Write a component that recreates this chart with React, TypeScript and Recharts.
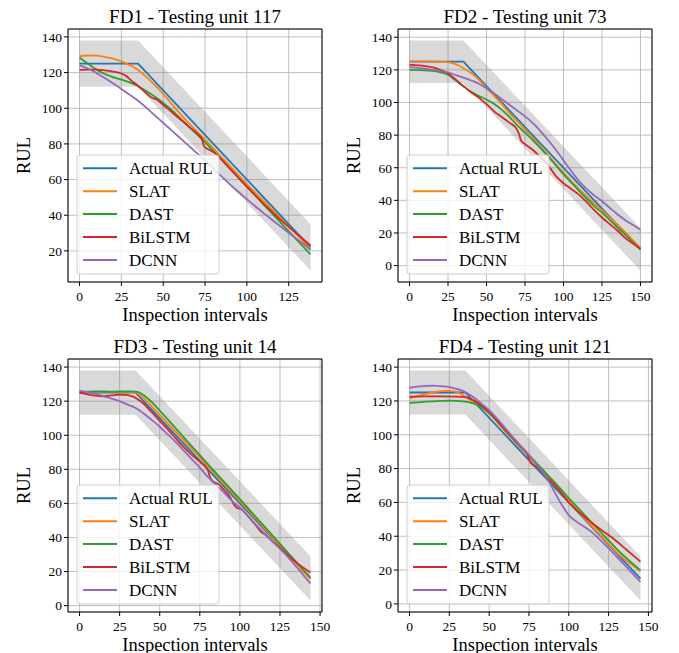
import React from "react";
import {
  ComposedChart,
  Line,
  Area,
  XAxis,
  YAxis,
  CartesianGrid,
  ReferenceArea,
} from "recharts";

const FONT = '"Liberation Serif", "Times New Roman", serif';

const SERIES_NAMES = ["Actual RUL", "SLAT", "DAST", "BiLSTM", "DCNN"];
const COLORS = ["#1f77b4", "#ff7f0e", "#2ca02c", "#d62728", "#9467bd"];

type Pt = [number, number];
type BandPt = [number, number, number];

// FD1 - unit 117
const fd1Actual: Pt[] = [[0, 125], [35, 125], [138, 22]];
const fd1Band: BandPt[] = [[0, 112, 138], [35, 112, 138], [138, 9, 35]];
const fd1Slat: Pt[] = [
  [0, 129.2], [5, 129.6], [10, 129.5], [15, 128.8], [20, 127.8], [25, 126.3], [30, 124.2],
  [35, 121.5], [40, 117.5], [45, 113], [50, 108], [55, 102.5], [60, 97], [65, 92],
  [70, 87.2], [75, 82.5], [80, 77.5], [90, 67.5], [100, 57.5], [110, 48], [120, 38.5],
  [130, 29], [138, 21],
];
const fd1Dast: Pt[] = [
  [0, 128.5], [5, 125], [10, 121.8], [15, 119.2], [20, 117.5], [25, 116], [30, 114.5],
  [35, 112.5], [40, 109.5], [45, 106.5], [50, 103], [55, 99], [60, 94.5], [65, 90],
  [70, 85.5], [75, 81], [80, 76], [90, 66], [100, 56], [110, 46], [120, 36], [130, 26],
  [138, 18],
];
const fd1Bilstm: Pt[] = [
  [0, 121.5], [5, 121.7], [10, 121.7], [15, 121.3], [20, 120.6], [25, 119.5], [28, 118],
  [31, 115.5], [35, 112.5], [38, 110], [41, 107.5], [43, 106], [46, 105], [50, 102],
  [55, 98], [60, 94], [65, 90], [70, 86], [73, 83], [74.5, 78.5], [78, 76.5], [81, 74.8],
  [83, 73], [86, 70], [90, 66], [100, 56], [110, 46.5], [120, 37.5], [130, 29.5], [138, 23],
];
const fd1Dcnn: Pt[] = [
  [0, 124], [5, 122.3], [10, 119.8], [15, 117], [20, 114], [25, 110.8], [30, 107.5],
  [35, 104.2], [40, 100.2], [45, 96], [50, 91.8], [55, 87.6], [60, 83.4], [65, 79.2],
  [70, 75], [75, 70.8], [80, 66.2], [85, 61.6], [90, 57.2], [95, 53], [100, 49],
  [105, 45], [110, 41.2], [115, 37.5], [120, 33.8], [125, 30.2], [130, 26.5], [135, 23],
  [138, 20.5],
];

// FD2 - unit 73
const fd2Actual: Pt[] = [[0, 125], [35, 125], [150, 10]];
const fd2Band: BandPt[] = [[0, 112, 138], [35, 112, 138], [150, -3, 23]];
const fd2Slat: Pt[] = [
  [0, 125.2], [10, 125.2], [20, 125], [25, 124.8], [30, 123.5], [35, 121], [40, 118],
  [45, 114], [50, 109], [55, 104], [60, 99], [65, 93.5], [70, 88.5], [75, 83.5],
  [80, 78.5], [85, 73], [90, 67.8], [95, 62.3], [100, 57], [110, 47], [120, 38],
  [125, 34], [130, 29.5], [140, 20.5], [150, 10.5],
];
const fd2Dast: Pt[] = [
  [0, 120], [10, 119.7], [20, 118.5], [25, 117], [30, 113.5], [35, 110], [40, 106.5],
  [45, 104], [50, 101.8], [55, 99], [60, 95.5], [65, 91], [70, 86], [75, 81.5], [80, 77],
  [85, 72], [90, 67], [95, 61.5], [100, 56], [110, 46], [120, 36.5], [125, 32.5],
  [130, 28], [140, 19], [150, 9.8],
];
const fd2Bilstm: Pt[] = [
  [0, 123], [10, 122.3], [15, 121.5], [20, 120], [25, 117.8], [30, 114], [35, 110],
  [40, 106.3], [45, 103], [50, 99], [55, 94.5], [60, 91], [65, 87.5], [69, 84.5],
  [71, 81], [72.5, 76.5], [75, 74.5], [80, 71], [85, 66.5], [90, 61.5], [95, 55],
  [100, 50.5], [105, 47], [110, 43.5], [115, 39], [120, 34], [125, 29.5], [130, 25.5],
  [135, 21.5], [140, 17], [145, 13.5], [150, 10.5],
];
const fd2Dcnn: Pt[] = [
  [0, 121.7], [10, 120.8], [20, 119.3], [25, 118.5], [30, 116.8], [35, 115.2], [40, 113.5],
  [45, 111.5], [50, 108.6], [55, 105.5], [60, 102], [65, 98.5], [70, 95], [75, 91.5],
  [80, 87.5], [85, 82.5], [90, 77], [95, 71], [100, 64.5], [105, 58], [110, 52],
  [115, 47], [120, 43], [125, 39.5], [130, 35.5], [135, 31.5], [140, 28], [145, 25],
  [150, 22],
];

// FD3 - unit 14
const fd3Actual: Pt[] = [[0, 125], [35, 125], [144, 16]];
const fd3Band: BandPt[] = [[0, 112, 138], [35, 112, 138], [144, 3, 29]];
const fd3Slat: Pt[] = [
  [0, 125.5], [10, 125.5], [20, 125.5], [30, 125.4], [35, 125], [37, 124.2], [40, 121.8],
  [45, 117], [50, 112], [55, 107], [60, 102], [65, 97], [70, 92], [75, 87], [80, 81.8],
  [90, 71.5], [100, 61.3], [110, 51], [120, 40.5], [130, 30], [144, 15.5],
];
const fd3Dast: Pt[] = [
  [0, 125.5], [10, 125.8], [20, 125.6], [30, 125.8], [35, 125.6], [38, 124.8], [40, 123.5],
  [45, 119.5], [50, 114.5], [55, 109.3], [60, 104], [65, 98.8], [70, 93.5], [75, 88.3],
  [80, 83], [90, 72.8], [100, 62.5], [110, 52], [120, 41.5], [130, 31], [144, 16.5],
];
const fd3Bilstm: Pt[] = [
  [0, 125], [5, 124], [10, 123.2], [15, 122.9], [20, 123.4], [25, 123.8], [30, 123.6],
  [33, 122.8], [36, 121.3], [40, 118.5], [45, 113.5], [50, 108.5], [55, 103.5], [60, 98.2],
  [65, 93], [70, 88.5], [75, 84.5], [79, 81], [80, 79.5], [81.5, 75], [84, 72.5], [87, 71],
  [90, 68], [94, 63.5], [96, 59.8], [98, 57.5], [101, 56.5], [105, 52.5], [110, 47],
  [113, 43.5], [116, 41.5], [120, 38], [125, 34], [130, 29.5], [135, 25.5], [140, 22],
  [144, 19.5],
];
const fd3Dcnn: Pt[] = [
  [0, 126], [5, 125.3], [10, 124.3], [15, 123], [20, 121.5], [25, 120], [30, 118],
  [35, 116], [40, 112.8], [45, 109], [50, 105], [55, 100.5], [60, 96], [65, 91], [70, 86],
  [75, 81], [80, 75.5], [85, 71], [90, 66.5], [95, 61.5], [100, 57.5], [110, 47.5],
  [120, 38], [130, 28.5], [140, 17.5], [144, 13],
];

// FD4 - unit 121
const fd4Actual: Pt[] = [[0, 125], [35, 125], [145, 15]];
const fd4Band: BandPt[] = [[0, 112, 138], [35, 112, 138], [145, 2, 28]];
const fd4Slat: Pt[] = [
  [0, 121.5], [5, 122.8], [10, 124], [15, 125], [20, 125.8], [25, 126], [28, 125.7],
  [31, 124.8], [35, 122.5], [40, 119.5], [45, 116.5], [50, 112.5], [55, 107.5], [60, 102],
  [65, 97], [70, 92], [75, 87], [80, 82], [85, 77], [90, 71.5], [100, 61], [110, 50.5],
  [120, 40.5], [130, 30.5], [145, 19.5],
];
const fd4Dast: Pt[] = [
  [0, 118.8], [5, 119.2], [10, 119.6], [15, 119.8], [20, 120], [25, 120.2], [30, 120],
  [35, 119.6], [40, 118.5], [45, 116.5], [50, 113], [55, 108], [60, 103], [65, 97.5],
  [70, 92.5], [75, 88], [80, 83], [85, 78], [90, 73], [100, 62.5], [110, 52.5],
  [120, 42.5], [130, 32.5], [145, 19.8],
];
const fd4Bilstm: Pt[] = [
  [0, 122.5], [10, 122.7], [20, 122.7], [30, 122.6], [35, 122.2], [40, 120.5], [45, 117.5],
  [50, 113.5], [55, 108.5], [60, 103], [65, 98], [70, 93], [74, 88.5], [75.5, 84.5],
  [77, 82.5], [80, 81], [85, 76], [87, 74], [90, 71.5], [95, 66], [100, 60], [105, 55.5],
  [110, 51.5], [115, 47.5], [120, 44], [125, 40.7], [130, 37], [135, 33], [140, 29],
  [145, 25],
];
const fd4Dcnn: Pt[] = [
  [0, 127.8], [5, 128.5], [10, 128.8], [15, 129], [20, 128.7], [25, 128.2], [30, 127],
  [35, 125.3], [40, 122.3], [45, 118.5], [50, 114.5], [55, 109.5], [60, 104], [65, 98.5],
  [70, 93], [75, 88], [80, 82], [85, 76], [88, 71.5], [92, 64.5], [95, 59.5], [100, 52.5],
  [105, 48.5], [110, 45.5], [115, 42], [120, 37.5], [125, 33], [130, 28], [135, 23],
  [140, 18], [145, 13],
];

const TICKS_125 = [0, 25, 50, 75, 100, 125];
const TICKS_150 = [0, 25, 50, 75, 100, 125, 150];
const Y_TICKS_20 = [20, 40, 60, 80, 100, 120, 140];
const Y_TICKS_0 = [0, 20, 40, 60, 80, 100, 120, 140];

const panels = [
  {
    title: "FD1 - Testing unit 117",
    left: 0, top: 0, height: 330,
    xDomain: [-6.9, 144.9], yDomain: [2.55, 144.45],
    xTicks: TICKS_125, yTicks: Y_TICKS_20,
    band: fd1Band,
    series: [fd1Actual, fd1Slat, fd1Dast, fd1Bilstm, fd1Dcnn],
  },
  {
    title: "FD2 - Testing unit 73",
    left: 330, top: 0, height: 330,
    xDomain: [-7.5, 157.5], yDomain: [-10.05, 145.05],
    xTicks: TICKS_150, yTicks: Y_TICKS_0,
    band: fd2Band,
    series: [fd2Actual, fd2Slat, fd2Dast, fd2Bilstm, fd2Dcnn],
  },
  {
    title: "FD3 - Testing unit 14",
    left: 0, top: 330, height: 323,
    xDomain: [-7.2, 151.2], yDomain: [-3.75, 144.75],
    xTicks: TICKS_150, yTicks: Y_TICKS_0,
    band: fd3Band,
    series: [fd3Actual, fd3Slat, fd3Dast, fd3Bilstm, fd3Dcnn],
  },
  {
    title: "FD4 - Testing unit 121",
    left: 330, top: 330, height: 323,
    xDomain: [-7.25, 152.25], yDomain: [-4.8, 144.8],
    xTicks: TICKS_150, yTicks: Y_TICKS_0,
    band: fd4Band,
    series: [fd4Actual, fd4Slat, fd4Dast, fd4Bilstm, fd4Dcnn],
  },
];

const PLOT_LEFT = 68;
const PLOT_TOP = 29;
const PLOT_W = 254;
const PLOT_BOTTOM = 282;

const tickStyle = { fill: "#000", fontSize: 13.5, fontFamily: FONT };

const XLabel = (props: any) => {
  const vb = props.viewBox;
  return (
    <text x={vb.x + vb.width / 2} y={vb.y + 38.5} textAnchor="middle" fontSize={18.5} fontFamily={FONT} fill="#000">
      Inspection intervals
    </text>
  );
};

const YLabel = (props: any) => {
  const vb = props.viewBox;
  const cx = vb.x + 30;
  const cy = vb.y + vb.height / 2;
  return (
    <text x={cx} y={cy} textAnchor="middle" fontSize={18.5} fontFamily={FONT} fill="#000" transform={`rotate(-90, ${cx}, ${cy})`}>
      RUL
    </text>
  );
};

function Panel({ cfg }: { cfg: any }) {
  const xAxisH = cfg.height - PLOT_BOTTOM;
  const band = cfg.band.map(([x, lo, hi]: BandPt) => ({ x, band: [lo, hi] }));
  const legendX = PLOT_LEFT + 9;
  const legendY = 155;
  return (
    <div style={{ position: "absolute", left: cfg.left, top: cfg.top, width: 340, height: cfg.height }}>
      <ComposedChart width={340} height={cfg.height} margin={{ top: PLOT_TOP, right: 18, bottom: 0, left: 0 }}>
        <CartesianGrid stroke="#b0b0b0" strokeWidth={0.8} />
        <XAxis
          type="number"
          dataKey="x"
          domain={cfg.xDomain}
          ticks={cfg.xTicks}
          interval={0}
          allowDataOverflow
          height={xAxisH}
          axisLine={false}
          tickLine={{ stroke: "#000" }}
          tickSize={4}
          tickMargin={5}
          tick={tickStyle}
          label={XLabel}
        />
        <YAxis
          type="number"
          domain={cfg.yDomain}
          ticks={cfg.yTicks}
          interval={0}
          allowDataOverflow
          width={PLOT_LEFT}
          axisLine={false}
          tickLine={{ stroke: "#000" }}
          tickSize={4}
          tickMargin={2}
          tick={tickStyle}
          label={YLabel}
        />
        <Area
          data={band}
          dataKey="band"
          type="linear"
          stroke="none"
          fill="#808080"
          fillOpacity={0.3}
          isAnimationActive={false}
        />
        {cfg.series.map((pts: Pt[], i: number) => (
          <Line
            key={SERIES_NAMES[i]}
            name={SERIES_NAMES[i]}
            data={pts.map(([x, y]) => ({ x, y }))}
            dataKey="y"
            type={i === 0 ? "linear" : "monotone"}
            stroke={COLORS[i]}
            strokeWidth={1.8}
            dot={false}
            activeDot={false}
            isAnimationActive={false}
          />
        ))}
        <ReferenceArea
          x1={cfg.xDomain[0]}
          x2={cfg.xDomain[1]}
          y1={cfg.yDomain[0]}
          y2={cfg.yDomain[1]}
          fill="none"
          stroke="#000"
          strokeWidth={1}
          strokeOpacity={1}
        />
      </ComposedChart>
      <svg
        width={340}
        height={cfg.height}
        style={{ position: "absolute", left: 0, top: 0, pointerEvents: "none" }}
      >
        <text x={PLOT_LEFT + PLOT_W / 2} y={22.7} textAnchor="middle" fontSize={19} fontFamily={FONT} fill="#000">
          {cfg.title}
        </text>
        <rect
          x={legendX}
          y={legendY}
          width={142}
          height={119}
          rx={3}
          fill="#fff"
          fillOpacity={0.8}
          stroke="#cccccc"
          strokeWidth={1}
        />
        {SERIES_NAMES.map((name, i) => {
          const ry = legendY + 13.3 + 22.9 * i;
          return (
            <g key={name}>
              <line x1={legendX + 6} x2={legendX + 40} y1={ry} y2={ry} stroke={COLORS[i]} strokeWidth={2} />
              <text x={legendX + 52} y={ry + 5.8} fontSize={17} fontFamily={FONT} fill="#000">
                {name}
              </text>
            </g>
          );
        })}
      </svg>
    </div>
  );
}

export default function App() {
  return (
    <div
      style={{
        position: "absolute",
        left: 0,
        top: 0,
        width: 679,
        height: 653,
        overflow: "hidden",
        background: "#fff",
        fontFamily: FONT,
      }}
    >
      {panels.map((cfg) => (
        <Panel key={cfg.title} cfg={cfg} />
      ))}
    </div>
  );
}
